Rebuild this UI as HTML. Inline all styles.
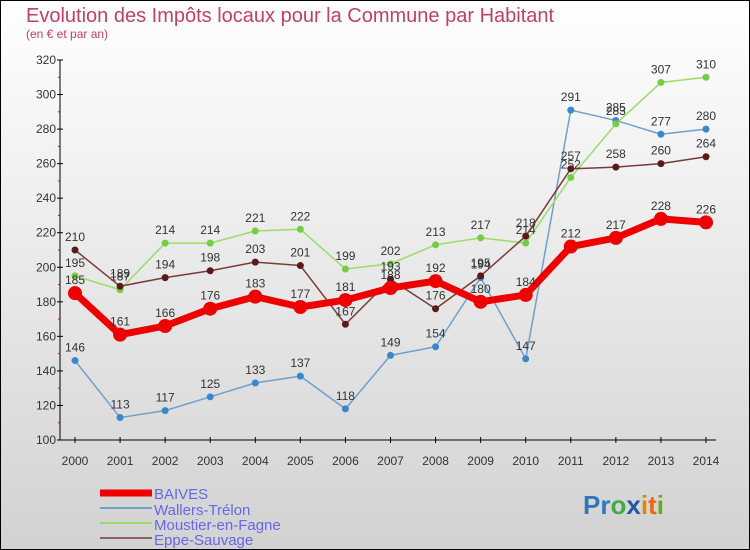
<!DOCTYPE html>
<html><head><meta charset="utf-8"><style>
body{margin:0;width:750px;height:550px;overflow:hidden;font-family:"Liberation Sans",sans-serif}
svg{display:block}
</style></head><body>
<svg id="c" width="750" height="550" xmlns="http://www.w3.org/2000/svg">
<defs><linearGradient id="bg" x1="0" y1="0" x2="0" y2="1"><stop offset="0" stop-color="#ffffff"/><stop offset="1" stop-color="#d2d2d2"/></linearGradient></defs>
<rect x="0.5" y="0.5" width="749" height="549" fill="url(#bg)" stroke="#000"/>
<text x="26" y="22" font-size="20" fill="#c0406a">Evolution des Impôts locaux pour la Commune par Habitant</text>
<text x="26" y="38" font-size="12" fill="#c0406a">(en € et par an)</text>
<g id="axes"></g><g id="series"></g>
<g font-size="15" fill="#6666ee">
<line x1="100" y1="493" x2="152" y2="493" stroke="#ee0000" stroke-width="7"/>
<text x="154" y="499">BAIVES</text>
<line x1="100" y1="508" x2="152" y2="508" stroke="#6fa0cc" stroke-width="2"/>
<text x="154" y="515">Wallers-Trélon</text>
<line x1="100" y1="523" x2="152" y2="523" stroke="#99dd66" stroke-width="2"/>
<text x="154" y="530">Moustier-en-Fagne</text>
<line x1="100" y1="538" x2="152" y2="538" stroke="#8a6060" stroke-width="2"/>
<text x="154" y="545">Eppe-Sauvage</text>
</g>
<text x="583" y="514" font-size="26" font-weight="bold"><tspan fill="#3377bb">Pr</tspan><tspan fill="#44aa44">o</tspan><tspan fill="#2255aa">x</tspan><tspan fill="#dd8800">i</tspan><tspan fill="#ee6611">t</tspan><tspan fill="#66aa22">i</tspan></text>
</svg>
<script>
const years=[2000,2001,2002,2003,2004,2005,2006,2007,2008,2009,2010,2011,2012,2013,2014];
const yTicks=[100,120,140,160,180,200,220,240,260,280,300,320];
const baives=[185,161,166,176,183,177,181,188,192,180,184,212,217,228,226];
const wallers=[146,113,117,125,133,137,118,149,154,194,147,291,285,277,280];
const moustier=[195,187,214,214,221,222,199,202,213,217,214,252,283,307,310];
const eppe=[210,189,194,198,203,201,167,193,176,195,218,257,258,260,264];
const NS="http://www.w3.org/2000/svg";
const X=i=>75+i*(706-75)/(years.length-1);
const Y=v=>440-(v-100)*(380/220);
function mk(t,a,p){const e=document.createElementNS(NS,t);for(const k in a)e.setAttribute(k,a[k]);p.appendChild(e);return e;}
const ax=document.getElementById('axes');
const yl=mk('line',{x1:60,y1:60,x2:60,y2:440,stroke:'#000'},ax);


const xl=mk('line',{x1:60,y1:440,x2:716,y2:440,stroke:'#000'},ax);


yTicks.forEach(v=>{
 mk('line',{x1:57,y1:Y(v),x2:63,y2:Y(v),stroke:'#000'},ax);
 if(v<320) mk('line',{x1:58,y1:Y(v+10),x2:60,y2:Y(v+10),stroke:'#e00'},ax);
 const t=mk('text',{x:56,y:Y(v)+4,'font-size':12,'text-anchor':'end',fill:'#333'},ax);
 t.textContent=v;
 
 
});
years.forEach((y,i)=>{
 mk('line',{x1:X(i),y1:437,x2:X(i),y2:443,stroke:'#000'},ax);
 const t=mk('text',{x:X(i),y:465,'font-size':12,'text-anchor':'middle',fill:'#333'},ax);
 t.textContent=y;
 
 
});
const sg=document.getElementById('series');
function series(vals,color,dot,w,r,name){
 const g=mk('g',{},sg);
 
 
 const p=mk('polyline',{points:vals.map((v,i)=>X(i)+','+Y(v)).join(' '),fill:'none',stroke:color,'stroke-width':w,'stroke-linejoin':'round'},g);
 
 
 vals.forEach((v,i)=>{
  const c=mk('circle',{cx:X(i),cy:Y(v),r:r,fill:dot},g);
  
  
  const t=mk('text',{x:X(i),y:Y(v)-9,'font-size':12,'text-anchor':'middle',fill:'#333'},g);
  t.textContent=v;
  
  
 });
}
series(wallers,'#6fa0cc','#3a88cc',1.5,3.5,'wallers');
series(moustier,'#99dd66','#77cc44',1.5,3.5,'moustier');
series(eppe,'#7a3a3a','#5a1a1a',1.5,3.5,'eppe');
series(baives,'#ee0000','#ee0000',7,7,'baives');
</script>
</body></html>
